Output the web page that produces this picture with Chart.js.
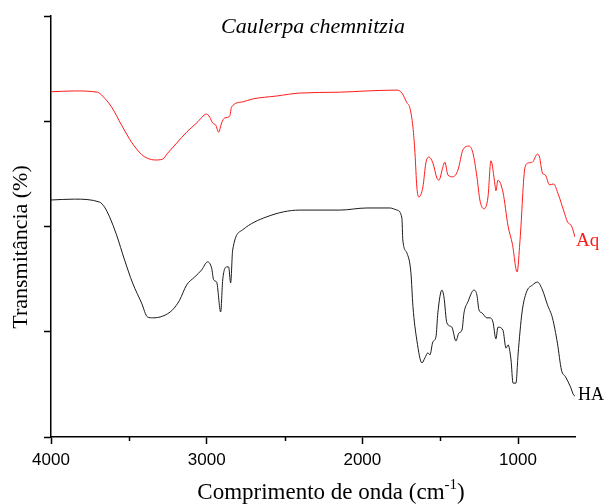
<!DOCTYPE html>
<html>
<head>
<meta charset="utf-8">
<script src="https://cdn.jsdelivr.net/npm/chart.js@4/dist/chart.umd.min.js"></script>
<style>
  html, body { margin: 0; padding: 0; background: #fff; }
  #wrap { width: 605px; height: 504px; }
</style>
</head>
<body>
<div id="wrap"><canvas id="ftir" width="605" height="504"></canvas></div>
<script>
// FTIR spectra, Caulerpa chemnitzia
const aqWave = [4000, 3850, 3701, 3669, 3611, 3547, 3482, 3418, 3380, 3330, 3283, 3251, 3193, 3129, 3064, 3000, 2981, 2962, 2942, 2923, 2904, 2884, 2852, 2840, 2769, 2704, 2550, 2402, 2145, 1971, 1778, 1746, 1714, 1695, 1675, 1662, 1650, 1637, 1611, 1592, 1573, 1547, 1521, 1508, 1483, 1470, 1450, 1418, 1386, 1354, 1315, 1290, 1264, 1245, 1219, 1193, 1174, 1148, 1142, 1129, 1097, 1064, 1036, 1006, 987, 955, 933, 907, 875, 862, 843, 824, 798, 772, 740, 708, 682, 656, 634];
const aqT = [82.0, 82.2, 81.9, 81.0, 78.4, 74.1, 70.0, 67.1, 66.2, 65.8, 66.0, 67.4, 69.8, 72.4, 74.6, 76.7, 76.0, 74.6, 74.1, 72.4, 74.6, 75.8, 76.2, 78.4, 79.6, 80.3, 81.0, 81.7, 81.9, 82.2, 82.4, 81.7, 79.4, 78.2, 73.6, 67.5, 59.4, 57.0, 59.4, 65.1, 66.5, 65.1, 61.5, 61.0, 64.1, 65.3, 62.2, 61.8, 63.4, 68.2, 69.1, 67.5, 61.8, 56.3, 54.2, 57.0, 65.6, 59.9, 58.5, 61.0, 58.2, 50.1, 45.8, 39.2, 46.8, 64.1, 65.1, 65.3, 67.2, 66.5, 62.7, 62.2, 59.9, 60.1, 57.5, 53.9, 51.1, 50.1, 47.5];

const haWave = [4000, 3850, 3688, 3656, 3624, 3579, 3527, 3476, 3418, 3380, 3347, 3283, 3219, 3174, 3129, 3077, 3032, 2994, 2968, 2955, 2936, 2910, 2897, 2871, 2859, 2846, 2833, 2769, 2614, 2402, 2145, 1971, 1824, 1778, 1746, 1740, 1714, 1688, 1675, 1650, 1617, 1598, 1579, 1566, 1547, 1527, 1515, 1489, 1476, 1457, 1425, 1399, 1380, 1360, 1347, 1322, 1283, 1264, 1251, 1232, 1200, 1180, 1161, 1142, 1129, 1097, 1077, 1064, 1045, 1032, 1013, 1000, 974, 946, 907, 875, 843, 811, 779, 747, 721, 695, 663, 643, 634];
const haT = [56.3, 56.5, 55.8, 54.6, 52.3, 48.0, 42.0, 36.6, 31.8, 28.5, 28.3, 28.7, 30.2, 32.5, 36.1, 38.0, 39.7, 41.6, 40.1, 37.3, 36.8, 29.7, 37.3, 40.4, 40.4, 36.6, 44.4, 49.2, 52.3, 53.9, 53.9, 54.4, 54.4, 53.9, 52.0, 46.8, 43.7, 39.0, 31.0, 23.0, 17.6, 18.8, 20.0, 19.5, 22.6, 23.8, 29.5, 34.9, 33.3, 27.1, 26.1, 22.8, 24.7, 25.4, 29.5, 32.1, 34.9, 33.7, 30.2, 29.5, 28.3, 28.3, 27.3, 23.3, 26.1, 25.4, 21.1, 21.9, 18.3, 12.8, 12.8, 19.5, 29.7, 34.4, 36.1, 36.8, 34.9, 31.4, 28.3, 22.3, 15.9, 14.3, 11.9, 10.0, 9.7];

const majorTicks = [4000, 3000, 2000, 1000];
const minorTicks = [3500, 2500, 1500];
const yTicks = [0, 25, 50, 75, 100];

const SERIF = "'Liberation Serif', 'Times New Roman', serif";
const SANS = "'Liberation Sans', Arial, sans-serif";

const toXY = (xs, ys) => xs.map((x, i) => ({ x, y: ys[i] }));

// minor x ticks + all the text around the plot
const annotations = {
  id: "annotations",
  afterDraw(chart) {
    const { ctx, scales: { x, y }, chartArea: area } = chart;
    ctx.save();
    ctx.strokeStyle = "#000";
    ctx.lineWidth = 1.5;
    minorTicks.forEach((v) => {
      const px = Math.round(x.getPixelForValue(v)) + 0.5;
      ctx.beginPath();
      ctx.moveTo(px, area.bottom);
      ctx.lineTo(px, area.bottom + 4);
      ctx.stroke();
    });

    ctx.fillStyle = "#000";
    ctx.textAlign = "center";
    ctx.textBaseline = "middle";
    ctx.font = `italic 22px ${SERIF}`;
    ctx.fillText("Caulerpa chemnitzia", (area.left + area.right) / 2, 27);

    // x title with superscript
    const main = "Comprimento de onda (cm";
    const sup = "-1";
    ctx.font = `23px ${SERIF}`;
    const wMain = ctx.measureText(main).width;
    const wClose = ctx.measureText(")").width;
    ctx.font = `15px ${SERIF}`;
    const wSup = ctx.measureText(sup).width;
    let sx = 331 - (wMain + wSup + wClose) / 2;
    const by = 499;
    ctx.textAlign = "left";
    ctx.textBaseline = "alphabetic";
    ctx.font = `23px ${SERIF}`;
    ctx.fillText(main, sx, by);
    sx += wMain;
    ctx.font = `15px ${SERIF}`;
    ctx.fillText(sup, sx, by - 10);
    sx += wSup;
    ctx.font = `23px ${SERIF}`;
    ctx.fillText(")", sx, by);

    // y title
    ctx.save();
    ctx.translate(21, 247);
    ctx.rotate(-Math.PI / 2);
    ctx.textAlign = "center";
    ctx.textBaseline = "middle";
    ctx.font = `22px ${SERIF}`;
    ctx.fillText("Transmitância (%)", 0, 0);
    ctx.restore();

    // series labels at the end of each trace
    ctx.textAlign = "left";
    ctx.textBaseline = "middle";
    ctx.font = `19px ${SERIF}`;
    ctx.fillStyle = "#ff1a1a";
    ctx.fillText("Aq", x.getPixelForValue(aqWave[aqWave.length - 1]) + 1, y.getPixelForValue(aqT[aqT.length - 1]) + 4);
    ctx.fillStyle = "#000";
    ctx.font = `18px ${SERIF}`;
    ctx.fillText("HA", x.getPixelForValue(haWave[haWave.length - 1]) + 3, y.getPixelForValue(haT[haT.length - 1]) - 1);
    ctx.restore();
  },
};

new Chart(document.getElementById("ftir"), {
  type: "line",
  data: {
    datasets: [
      {
        label: "Aq",
        data: toXY(aqWave, aqT),
        borderColor: "#ff1a1a",
        borderWidth: 1,
        pointRadius: 0,
        cubicInterpolationMode: "monotone",
        fill: false,
      },
      {
        label: "HA",
        data: toXY(haWave, haT),
        borderColor: "#1a1a1a",
        borderWidth: 1,
        pointRadius: 0,
        cubicInterpolationMode: "monotone",
        fill: false,
      },
    ],
  },
  options: {
    responsive: false,
    animation: false,
    devicePixelRatio: 1,
    layout: { padding: { top: 16, right: 30, left: 0, bottom: 0 } },
    plugins: { legend: { display: false }, tooltip: { enabled: false }, title: { display: false } },
    scales: {
      x: {
        type: "linear",
        reverse: true,
        min: 634,
        max: 4000,
        afterBuildTicks: (s) => { s.ticks = majorTicks.map((v) => ({ value: v })); },
        afterFit: (s) => { s.height = 67; },
        grid: { drawOnChartArea: false, tickLength: 7, color: "#000", tickWidth: 1.5 },
        border: { color: "#000", width: 1.5 },
        ticks: {
          color: "#000",
          font: { family: SANS, size: 17 },
          maxRotation: 0,
          padding: 6,
          callback: (v) => String(v),
        },
      },
      y: {
        min: 0,
        max: 100,
        afterBuildTicks: (s) => { s.ticks = yTicks.map((v) => ({ value: v })); },
        afterFit: (s) => { s.width = 51; },
        grid: { drawOnChartArea: false, tickLength: 7, color: "#000", tickWidth: 1.5 },
        border: { color: "#000", width: 1.5 },
        ticks: { display: false },
      },
    },
  },
  plugins: [annotations],
});
</script>
</body>
</html>
